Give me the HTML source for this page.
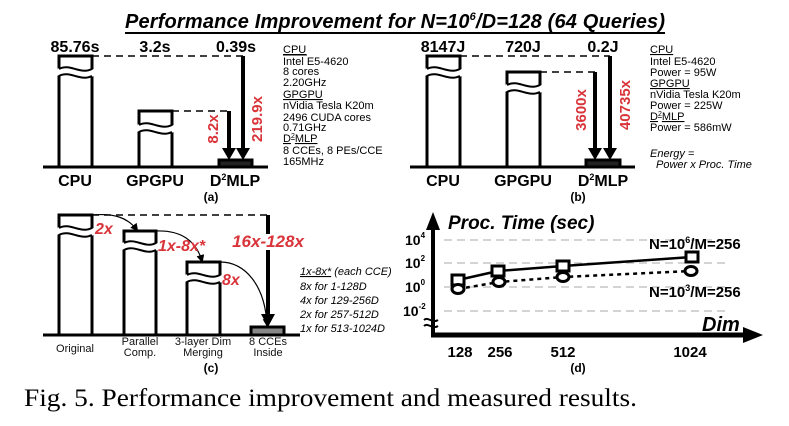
<!DOCTYPE html>
<html><head><meta charset="utf-8"><style>
html,body{margin:0;padding:0;background:#fff;width:789px;height:426px;overflow:hidden}
svg{display:block}
text{font-family:"Liberation Sans",sans-serif}
.b{font-weight:bold}
.r{fill:#d9343a;font-weight:bold}
.s{font-size:11px}
</style></head><body>
<svg width="789" height="426" viewBox="0 0 789 426" xmlns="http://www.w3.org/2000/svg">
<defs>
<marker id="ah" markerWidth="4" markerHeight="4" refX="2" refY="2" orient="auto" markerUnits="strokeWidth"><path d="M0,0 L4,2 L0,4 z" fill="#000"/></marker>
<marker id="ahs" markerWidth="8" markerHeight="8" refX="6" refY="4" orient="auto" markerUnits="userSpaceOnUse"><path d="M0,0 L8,4 L0,8 z" fill="#000"/></marker>
</defs>
<!-- title -->
<text x="395" y="28" text-anchor="middle" class="b" font-style="italic" font-size="20" textLength="540">Performance Improvement for N=10<tspan dy="-8" font-size="11">6</tspan><tspan dy="8">/D=128 (64 Queries)</tspan></text>
<line x1="125" y1="33" x2="665" y2="33" stroke="#000" stroke-width="2"/>

<!-- panel a -->
<g stroke="#000" stroke-width="3" fill="#fff">
<rect x="59" y="56" width="33" height="111"/>
<rect x="139" y="111" width="33" height="56"/>
<rect x="219" y="160" width="33" height="7" fill="#222"/>
<rect x="427" y="56" width="33" height="111"/>
<rect x="507" y="72" width="33" height="95"/>
<rect x="586" y="160" width="34" height="7" fill="#222"/>
<rect x="59" y="215" width="33" height="120"/>
<rect x="124" y="231" width="32" height="104"/>
<rect x="187" y="262" width="33" height="73"/>
<rect x="251" y="327" width="33" height="8" fill="#888"/>
</g>
<!-- breaks -->
<g fill="#fff" stroke="none">
<path d="M57,69 C68,63 80,75 94,69 L94,76 C80,82 68,70 57,76z"/>
<path d="M137,125 C148,119 160,131 174,125 L174,132 C160,138 148,126 137,132z"/>
<path d="M425,69 C436,63 448,75 462,69 L462,76 C448,82 436,70 425,76z"/>
<path d="M505,85 C516,79 528,91 542,85 L542,92 C528,98 516,86 505,92z"/>
<path d="M57,228 C68,222 80,234 94,228 L94,235 C80,241 68,229 57,235z"/>
<path d="M122,243 C133,237 145,249 158,243 L158,250 C145,256 133,244 122,250z"/>
<path d="M185,275 C196,269 208,281 222,275 L222,282 C208,288 196,276 185,282z"/>
</g>
<g fill="none" stroke="#000" stroke-width="2">
<path d="M59,69 C70,63 80,75 92,69"/><path d="M59,76 C70,70 80,82 92,76"/>
<path d="M139,125 C150,119 160,131 172,125"/><path d="M139,132 C150,126 160,138 172,132"/>
<path d="M427,69 C438,63 448,75 460,69"/><path d="M427,76 C438,70 448,82 460,76"/>
<path d="M507,85 C518,79 528,91 540,85"/><path d="M507,92 C518,86 528,98 540,92"/>
<path d="M59,228 C70,222 80,234 92,228"/><path d="M59,235 C70,229 80,241 92,235"/>
<path d="M124,243 C135,237 145,249 156,243"/><path d="M124,250 C135,244 145,256 156,250"/>
<path d="M187,275 C198,269 208,281 220,275"/><path d="M187,282 C198,276 208,288 220,282"/>
</g>
<!-- axes -->
<g stroke="#000" stroke-width="3">
<line x1="43" y1="167" x2="268" y2="167"/>
<line x1="410" y1="167" x2="635" y2="167"/>
<line x1="43" y1="335" x2="300" y2="335"/>
</g>
<!-- dashed -->
<g stroke="#000" stroke-width="1.5" stroke-dasharray="7,5">
<line x1="92" y1="56" x2="243" y2="56"/>
<line x1="172" y1="111" x2="229" y2="111"/>
<line x1="460" y1="56" x2="610" y2="56"/>
<line x1="540" y1="72" x2="595" y2="72"/>
<line x1="92" y1="215" x2="268" y2="215"/>
</g>
<!-- arrows -->
<g stroke="#000" stroke-width="4">
<line x1="243" y1="56" x2="243" y2="148"/><line x1="229" y1="111" x2="229" y2="148"/>
<line x1="610" y1="56" x2="610" y2="148"/><line x1="595" y1="72" x2="595" y2="148"/>
<line x1="268" y1="215" x2="268" y2="234"/><line x1="268" y1="250" x2="268" y2="314"/>
</g>
<g fill="#000">
<path d="M236,148 L250,148 L243,160z"/><path d="M222,148 L236,148 L229,160z"/>
<path d="M603,148 L617,148 L610,160z"/><path d="M588,148 L602,148 L595,160z"/>
<path d="M261,314 L275,314 L268,327z"/>
</g>
<!-- curved arrows c -->
<g fill="none" stroke="#000" stroke-width="1.2" marker-end="url(#ahs)">
<path d="M92,215 C115,213 128,218 137,230"/>
<path d="M156,231 C180,230 196,240 202,261"/>
<path d="M220,262 C245,262 265,285 267,325"/>
</g>

<!-- value labels -->
<g class="b" font-size="16" text-anchor="middle">
<text x="75" y="52">85.76s</text><text x="155" y="52">3.2s</text><text x="236" y="52">0.39s</text>
<text x="443" y="52">8147J</text><text x="523" y="52">720J</text><text x="603" y="52">0.2J</text>
</g>
<g class="b" font-size="16" text-anchor="middle">
<text x="75" y="186">CPU</text><text x="155" y="186">GPGPU</text><text x="235" y="186">D<tspan dy="-6" font-size="9">2</tspan><tspan dy="6">MLP</tspan></text>
<text x="443" y="186">CPU</text><text x="523" y="186">GPGPU</text><text x="603" y="186">D<tspan dy="-6" font-size="9">2</tspan><tspan dy="6">MLP</tspan></text>
</g>
<g class="b" font-size="12" text-anchor="middle">
<text x="211" y="201">(a)</text><text x="578" y="201">(b)</text><text x="211" y="372">(c)</text><text x="578" y="372">(d)</text>
</g>
<!-- red rotated -->
<g class="r" font-size="15" text-anchor="middle">
<text transform="translate(218,129) rotate(-90)">8.2x</text>
<text transform="translate(262,119) rotate(-90)">219.9x</text>
<text transform="translate(586,110) rotate(-90)">3600x</text>
<text transform="translate(630,105) rotate(-90)">40735x</text>
</g>
<g class="r" font-size="16" font-style="italic">
<text x="95" y="234">2x</text><text x="158" y="251">1x-8x*</text><text x="222" y="285">8x</text>
<text x="268" y="247" text-anchor="middle" font-size="17">16x-128x</text>
</g>
<!-- spec a -->
<g class="s">
<text x="283" y="53" text-decoration="underline">CPU</text>
<text x="283" y="65">Intel E5-4620</text>
<text x="283" y="75">8 cores</text>
<text x="283" y="86">2.20GHz</text>
<text x="283" y="98" text-decoration="underline">GPGPU</text>
<text x="283" y="109">nVidia Tesla K20m</text>
<text x="283" y="121">2496 CUDA cores</text>
<text x="283" y="131">0.71GHz</text>
<text x="283" y="142" text-decoration="underline">D<tspan dy="-4" font-size="7">2</tspan><tspan dy="4">MLP</tspan></text>
<text x="283" y="154">8 CCEs, 8 PEs/CCE</text>
<text x="283" y="165">165MHz</text>
</g>
<g class="s">
<text x="650" y="53" text-decoration="underline">CPU</text>
<text x="650" y="65">Intel E5-4620</text>
<text x="650" y="76">Power = 95W</text>
<text x="650" y="87" text-decoration="underline">GPGPU</text>
<text x="650" y="98">nVidia Tesla K20m</text>
<text x="650" y="109">Power = 225W</text>
<text x="650" y="120" text-decoration="underline">D<tspan dy="-4" font-size="7">2</tspan><tspan dy="4">MLP</tspan></text>
<text x="650" y="131">Power = 586mW</text>
<text x="650" y="157" font-style="italic">Energy =</text>
<text x="656" y="168" font-style="italic">Power x Proc. Time</text>
</g>
<line x1="283" y1="55" x2="307" y2="55" stroke="#000" stroke-width="1"/>
<!-- c labels -->
<g font-size="11" text-anchor="middle" class="b" fill="#111">
<text x="75" y="352" font-weight="normal">Original</text>
<text x="140" y="345" font-weight="normal">Parallel</text><text x="140" y="356" font-weight="normal">Comp.</text>
<text x="203" y="345" font-weight="normal">3-layer Dim</text><text x="203" y="356" font-weight="normal">Merging</text>
<text x="268" y="345" font-weight="normal">8 CCEs</text><text x="268" y="356" font-weight="normal">Inside</text>
</g>
<g font-size="11" font-style="italic">
<text x="300" y="275"><tspan text-decoration="underline">1x-8x*</tspan> (each CCE)</text>
<text x="300" y="290">8x for 1-128D</text>
<text x="300" y="304">4x for 129-256D</text>
<text x="300" y="318">2x for 257-512D</text>
<text x="300" y="332">1x for 513-1024D</text>
</g>
<!-- panel d -->
<g stroke="#aaa" stroke-width="1" stroke-dasharray="8,5">
<line x1="444" y1="240" x2="730" y2="240"/><line x1="444" y1="263" x2="730" y2="263"/>
<line x1="444" y1="287" x2="730" y2="287"/><line x1="444" y1="311" x2="730" y2="311"/>
</g>
<line x1="433" y1="228" x2="433" y2="337" stroke="#000" stroke-width="4"/>
<path d="M426,230 L433,212 L440,230z" fill="#000"/>
<line x1="431" y1="335" x2="745" y2="335" stroke="#000" stroke-width="5"/>
<path d="M743,327 L763,335 L743,343z" fill="#000"/>
<path d="M424,320 C428,316 432,324 438,320 M424,326 C428,322 432,330 438,326" stroke="#000" stroke-width="2" fill="none"/>
<g class="b" font-size="14">
<text x="405" y="245">10<tspan dy="-7" font-size="8">4</tspan></text>
<text x="405" y="268">10<tspan dy="-7" font-size="8">2</tspan></text>
<text x="405" y="292">10<tspan dy="-7" font-size="8">0</tspan></text>
<text x="403" y="316">10<tspan dy="-7" font-size="8">-2</tspan></text>
</g>
<text x="448" y="229" class="b" font-style="italic" font-size="19">Proc. Time (sec)</text>
<text x="702" y="331" class="b" font-style="italic" font-size="20">Dim</text>
<g class="b" font-size="15" text-anchor="middle">
<text x="460" y="357">128</text><text x="500" y="357">256</text><text x="563" y="357">512</text><text x="690" y="357">1024</text>
</g>
<polyline points="458,280 498,271 563,266 692,257" fill="none" stroke="#000" stroke-width="2.5"/>
<polyline points="458,289 499,282 563,277 691,271" fill="none" stroke="#000" stroke-width="2.5" stroke-dasharray="4,4"/>
<g fill="#fff" stroke="#000" stroke-width="3">
<rect x="452" y="275" width="12" height="10"/><rect x="492" y="266" width="12" height="10"/>
<rect x="557" y="261" width="12" height="10"/><rect x="686" y="252" width="12" height="10"/>
<ellipse cx="458" cy="289" rx="6" ry="4.5"/><ellipse cx="499" cy="282" rx="6" ry="4.5"/>
<ellipse cx="563" cy="277" rx="6" ry="4.5"/><ellipse cx="691" cy="271" rx="6" ry="4.5"/>
</g>
<g class="b" font-size="15">
<text x="649" y="249">N=10<tspan dy="-6" font-size="9">6</tspan><tspan dy="6">/M=256</tspan></text>
<text x="649" y="297">N=10<tspan dy="-6" font-size="9">3</tspan><tspan dy="6">/M=256</tspan></text>
</g>
<!-- caption -->
<text x="24" y="406" font-family="Liberation Serif, serif" font-size="25" textLength="613" lengthAdjust="spacingAndGlyphs" style="font-family:'Liberation Serif',serif">Fig. 5. Performance improvement and measured results.</text>
</svg>
</body></html>
